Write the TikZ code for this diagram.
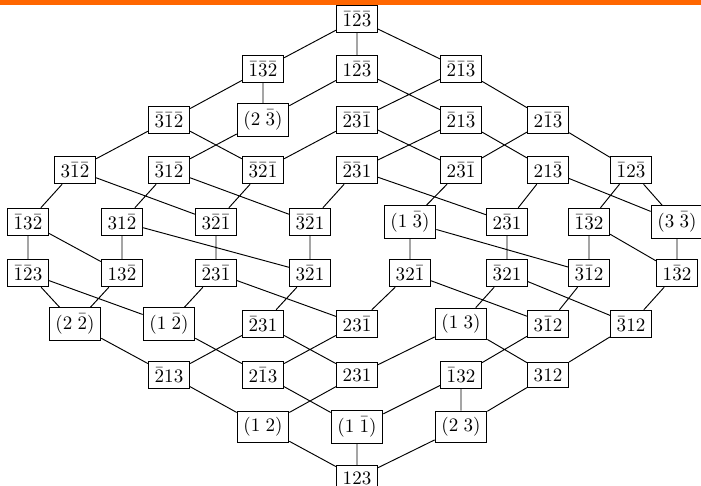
\documentclass[tikz,border=0pt]{standalone}
\usepackage{amsmath,amssymb}
\usepackage{tikz}
\definecolor{barorange}{RGB}{255,102,0}

\begin{document}
\begin{tikzpicture}[x=0.526pt, y=-0.526pt, line width=0.5pt, perm/.style={draw, inner sep=3.33pt}]
    \useasboundingbox (0,0) rectangle (701,486);
    \fill[barorange] (0,0) rectangle (701,5);

    \node[perm] (sm1m2m3) at (357,19) {$\bar1\bar2\bar3$};

    \node[perm] (sm1m3m2) at (263,69) {$\bar1\bar3\bar2$};
    \node[perm] (s1m2m3) at (357,69) {$1\bar2\bar3$};
    \node[perm] (sm2m1m3) at (461,69) {$\bar2\bar1\bar3$};

    \node[perm] (sm3m1m2) at (169,120) {$\bar3\bar1\bar2$};
    \node[perm] (c2m3) at (263,120) {$(2\;\bar3)$};
    \node[perm] (sm2m3m1) at (357,120) {$\bar2\bar3\bar1$};
    \node[perm] (sm21m3) at (461,120) {$\bar21\bar3$};
    \node[perm] (s2m1m3) at (548,120) {$2\bar1\bar3$};

    \node[perm] (s3m1m2) at (75,170) {$3\bar1\bar2$};
    \node[perm] (sm31m2) at (169,170) {$\bar31\bar2$};
    \node[perm] (sm3m2m1) at (263,170) {$\bar3\bar2\bar1$};
    \node[perm] (sm2m31) at (357,170) {$\bar2\bar31$};
    \node[perm] (s2m3m1) at (461,170) {$2\bar3\bar1$};
    \node[perm] (s21m3) at (548,170) {$21\bar3$};
    \node[perm] (sm12m3) at (631,170) {$\bar12\bar3$};

    \node[perm] (sm13m2) at (28,222) {$\bar13\bar2$};
    \node[perm] (s31m2) at (122,222) {$31\bar2$};
    \node[perm] (s3m2m1) at (216,222) {$3\bar2\bar1$};
    \node[perm] (sm3m21) at (310,222) {$\bar3\bar21$};
    \node[perm] (c1m3) at (410,222) {$(1\;\bar3)$};
    \node[perm] (s2m31) at (507,222) {$2\bar31$};
    \node[perm] (sm1m32) at (589,222) {$\bar1\bar32$};
    \node[perm] (c3m3) at (677,222) {$(3\;\bar3)$};

    \node[perm] (sm1m23) at (28,273) {$\bar1\bar23$};
    \node[perm] (s13m2) at (122,273) {$13\bar2$};
    \node[perm] (sm23m1) at (216,273) {$\bar23\bar1$};
    \node[perm] (s3m21) at (310,273) {$3\bar21$};
    \node[perm] (s32m1) at (410,273) {$32\bar1$};
    \node[perm] (sm321) at (507,273) {$\bar321$};
    \node[perm] (sm3m12) at (589,273) {$\bar3\bar12$};
    \node[perm] (s1m32) at (677,273) {$1\bar32$};

    \node[perm] (c2m2) at (75,324) {$(2\;\bar2)$};
    \node[perm] (c1m2) at (169,324) {$(1\;\bar2)$};
    \node[perm] (sm231) at (263,324) {$\bar231$};
    \node[perm] (s23m1) at (357,324) {$23\bar1$};
    \node[perm] (c13) at (461,324) {$(1\;3)$};
    \node[perm] (s3m12) at (548,324) {$3\bar12$};
    \node[perm] (sm312) at (631,324) {$\bar312$};

    \node[perm] (sm213) at (169,375) {$\bar213$};
    \node[perm] (s2m13) at (263,375) {$2\bar13$};
    \node[perm] (s231) at (357,375) {$231$};
    \node[perm] (sm132) at (461,375) {$\bar132$};
    \node[perm] (s312) at (548,375) {$312$};

    \node[perm] (c12) at (263,427) {$(1\;2)$};
    \node[perm] (c1m1) at (357,427) {$(1\;\bar1)$};
    \node[perm] (c23) at (461,427) {$(2\;3)$};

    \node[perm] (s123) at (357,478) {$123$};

    \draw (sm1m2m3) -- (sm1m3m2) (sm1m2m3) -- (s1m2m3) (sm1m2m3) -- (sm2m1m3);
    \draw (sm1m3m2) -- (sm3m1m2) (sm1m3m2) -- (c2m3) (s1m2m3) -- (c2m3) (s1m2m3) -- (sm21m3)
          (sm2m1m3) -- (sm2m3m1) (sm2m1m3) -- (s2m1m3);
    \draw (sm3m1m2) -- (s3m1m2) (sm3m1m2) -- (sm3m2m1) (c2m3) -- (sm31m2)
          (sm2m3m1) -- (sm3m2m1) (sm2m3m1) -- (s2m3m1) (sm21m3) -- (sm2m31) (sm21m3) -- (s21m3)
          (s2m1m3) -- (s2m3m1) (s2m1m3) -- (sm12m3);
    \draw (s3m1m2) -- (sm13m2) (s3m1m2) -- (s3m2m1) (sm31m2) -- (s31m2) (sm31m2) -- (sm3m21)
          (sm3m2m1) -- (s3m2m1) (sm2m31) -- (sm3m21) (sm2m31) -- (s2m31) (s2m3m1) -- (c1m3)
          (s21m3) -- (s2m31) (s21m3) -- (c3m3) (sm12m3) -- (sm1m32) (sm12m3) -- (c3m3);
    \draw (sm13m2) -- (sm1m23) (sm13m2) -- (s13m2) (s31m2) -- (s13m2) (s31m2) -- (s3m21)
          (s3m2m1) -- (sm23m1) (sm3m21) -- (s3m21) (c1m3) -- (s32m1) (c1m3) -- (sm3m12)
          (s2m31) -- (sm321) (sm1m32) -- (sm3m12) (sm1m32) -- (s1m32) (c3m3) -- (s1m32);
    \draw (sm1m23) -- (c2m2) (sm1m23) -- (c1m2) (s13m2) -- (c2m2) (sm23m1) -- (c1m2)
          (sm23m1) -- (s23m1) (s3m21) -- (sm231) (s32m1) -- (s23m1) (s32m1) -- (s3m12)
          (sm321) -- (c13) (sm321) -- (sm312) (sm3m12) -- (s3m12) (s1m32) -- (sm312);
    \draw (c2m2) -- (sm213) (c1m2) -- (s2m13) (sm231) -- (sm213) (sm231) -- (s231)
          (s23m1) -- (s2m13) (c13) -- (s231) (c13) -- (s312) (s3m12) -- (sm132) (sm312) -- (s312);
    \draw (sm213) -- (c12) (s2m13) -- (c1m1) (s231) -- (c12) (sm132) -- (c1m1) (sm132) -- (c23)
          (s312) -- (c23);
    \draw (c12) -- (s123) (c1m1) -- (s123) (c23) -- (s123);
\end{tikzpicture}
\end{document}
